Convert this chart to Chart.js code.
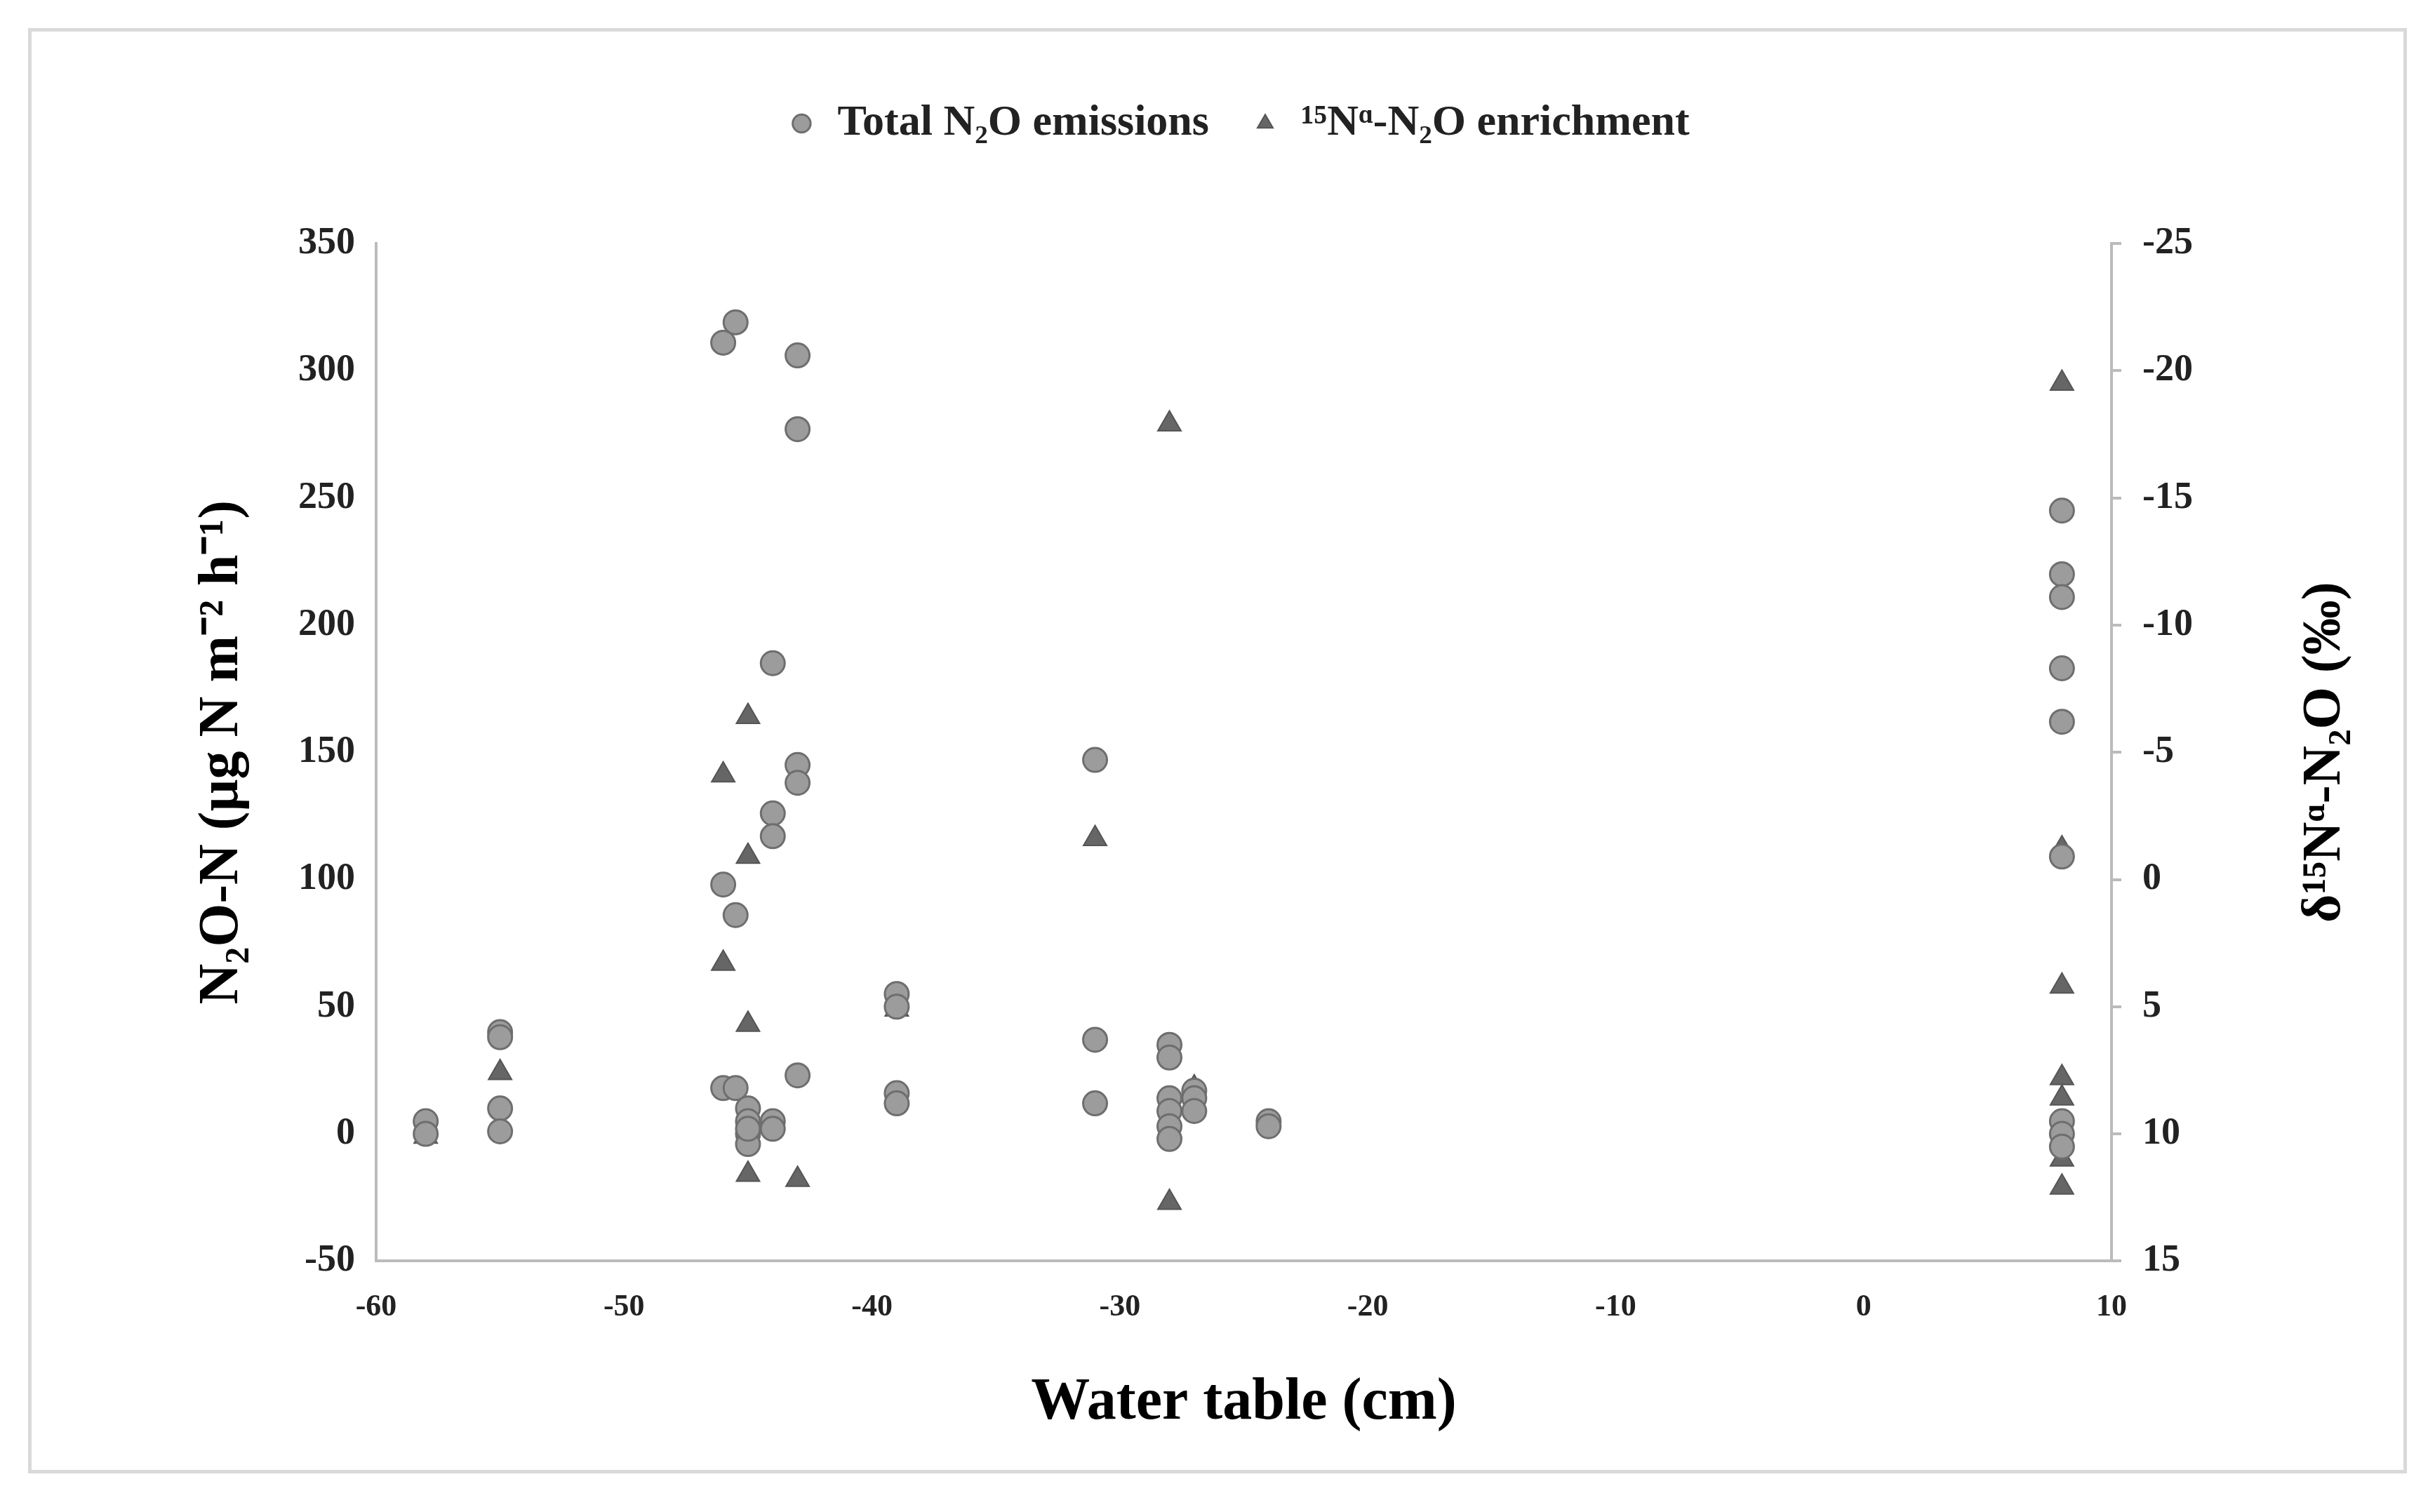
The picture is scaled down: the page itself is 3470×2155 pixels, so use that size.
<!DOCTYPE html>
<html>
<head>
<meta charset="utf-8">
<script src="https://cdn.jsdelivr.net/npm/chart.js@4/dist/chart.umd.min.js"></script>
<style>
  html, body { margin: 0; padding: 0; background: #fff; }
  #wrap { position: absolute; left: 40px; top: 40px; width: 3390px; height: 2060px; border: 5px solid #d9d9d9; box-sizing: border-box; }
  canvas { display: block; }
</style>
</head>
<body>
<div id="wrap"><canvas id="c"></canvas></div>
<script>
// N2O emissions (left axis), x = water table (cm)
const emisX = [-58, -58, -55, -55, -55, -55,
  -46, -46, -46, -45.5, -45.5, -45.5,
  -45, -45, -45, -45, -45,
  -43, -43, -43, -43, -43,
  -44, -44, -44, -44, -44,
  -39, -39, -39, -39,
  -31, -31, -31,
  -28, -28, -28, -28, -28, -28,
  -27, -27, -27, -24, -24,
  8, 8, 8, 8, 8, 8, 8, 8, 8];
const emisY = [5, 0, 40, 38, 10, 1,
  311, 98, 18, 319, 86, 18,
  10, 5, 0, -4, 2,
  306, 277, 145, 138, 23,
  185, 126, 117, 5, 2,
  55, 50, 16, 12,
  147, 37, 12,
  35, 30, 14, 9, 3, -2,
  17, 14, 9, 5, 3,
  245, 220, 211, 183, 162, 109, 5, 0, -5];

// 15N-alpha enrichment (right axis, per mil)
const enrX = [-58, -55, -46, -46, -45, -45, -45, -45, -45, -43, -39, -31, -28, -28, -27,
  8, 8, 8, 8, 8, 8, 8];
const enrY = [10.1, 7.6, -4.1, 3.3, -6.4, -0.9, 5.7, 9.5, 11.6, 11.8, 5.1, -1.6, -17.9, 12.7, 8.2,
  -19.5, -1.2, 4.2, 7.8, 8.6, 11.0, 12.1];

const FONT = "'Liberation Serif', 'Times New Roman', serif";
const canvas = document.getElementById("c");
canvas.width = 3380; canvas.height = 2050;
canvas.style.width = "3380px"; canvas.style.height = "2050px";

const pts = (xs, ys) => xs.map((x, i) => ({ x, y: ys[i] }));

const rightTitle = {
  id: "rightTitle",
  afterDraw(chart) {
    const ctx = chart.ctx, s = chart.scales.y2;
    ctx.save();
    ctx.translate(s.right + 10, (s.top + s.bottom) / 2);
    ctx.rotate(-Math.PI / 2);
    ctx.font = "bold 78px " + FONT;
    ctx.fillStyle = "#000";
    ctx.textAlign = "center";
    ctx.textBaseline = "top";
    ctx.fillText("δ¹⁵Nᵅ-N₂O (‰)", 0, 0);
    ctx.restore();
  }
};

// extra space between legend and plot
const legendGap = {
  id: "legendGap",
  beforeInit(chart) {
    const fit = chart.legend.fit;
    chart.legend.fit = function () {
      fit.bind(chart.legend)();
      this.height += 130;
    };
  }
};

new Chart(canvas.getContext("2d"), {
  type: "scatter",
  data: {
    datasets: [
      {
        label: "Total N₂O emissions",
        data: pts(emisX, emisY),
        yAxisID: "y",
        pointStyle: "circle",
        pointRadius: 17,
        backgroundColor: "#9c9c9c",
        borderColor: "#6e6e6e",
        borderWidth: 3
      },
      {
        label: "¹⁵Nᵅ-N₂O enrichment",
        data: pts(enrX, enrY),
        yAxisID: "y2",
        pointStyle: "triangle",
        pointRadius: 19,
        backgroundColor: "#666666",
        borderColor: "#555555",
        borderWidth: 2
      }
    ]
  },
  options: {
    responsive: false,
    animation: false,
    layout: { padding: { left: 220, right: 160, top: 40, bottom: 40 } },
    plugins: {
      tooltip: { enabled: false },
      legend: {
        position: "top",
        labels: {
          usePointStyle: true,
          font: { family: FONT, size: 62, weight: "bold" },
          color: "#222",
          padding: 60,
          boxWidth: 40,
          boxHeight: 18
        }
      }
    },
    scales: {
      x: {
        type: "linear",
        min: -60, max: 10,
        ticks: { stepSize: 10, font: { family: FONT, size: 44, weight: "bold" }, color: "#222", padding: 40 },
        grid: { drawOnChartArea: false, drawTicks: false },
        border: { color: "#bbbbbb", width: 4 },
        title: { display: true, text: "Water table (cm)", font: { family: FONT, size: 84, weight: "bold" }, color: "#000", padding: { top: 20 } }
      },
      y: {
        position: "left",
        min: -50, max: 350,
        ticks: { stepSize: 50, font: { family: FONT, size: 54, weight: "bold" }, color: "#222", padding: 30 },
        grid: { drawOnChartArea: false, drawTicks: false },
        border: { color: "#bbbbbb", width: 4 },
        title: { display: true, text: "N₂O-N (µg N m⁻² h⁻¹)", font: { family: FONT, size: 80, weight: "bold" }, color: "#000", padding: { bottom: 30 } }
      },
      y2: {
        position: "right",
        min: -25, max: 15,
        reverse: true,
        ticks: { stepSize: 5, font: { family: FONT, size: 54, weight: "bold" }, color: "#222", padding: 30 },
        grid: { drawOnChartArea: false, drawTicks: true, tickLength: 14, color: "#bbbbbb", lineWidth: 4 },
        border: { color: "#bbbbbb", width: 4 },
        afterFit(s) { s.width += 110; }
      }
    }
  },
  plugins: [rightTitle, legendGap]
});
</script>
</body>
</html>
